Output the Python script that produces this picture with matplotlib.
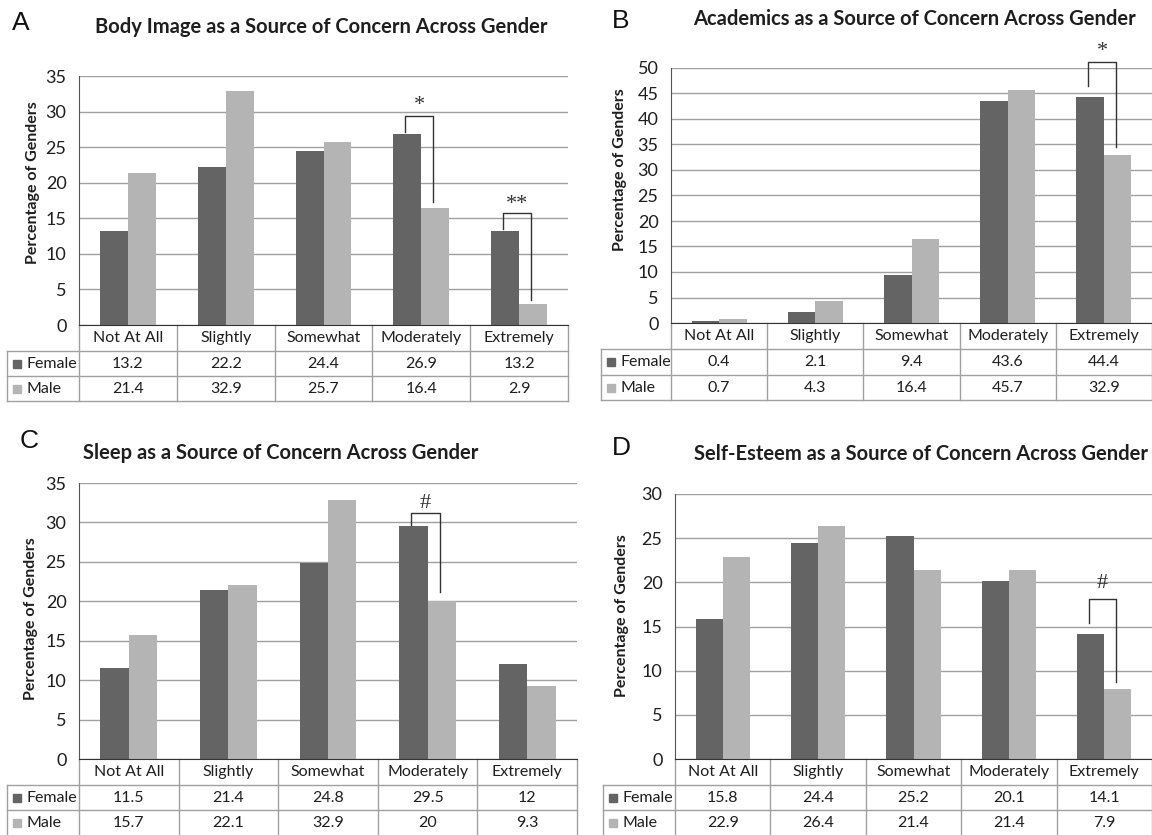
import numpy as np
import matplotlib
matplotlib.use('Agg')
import matplotlib.pyplot as plt
from matplotlib.transforms import blended_transform_factory

plt.rcParams['font.family'] = ['Lato', 'DejaVu Sans']

categories = ['Not At All', 'Slightly', 'Somewhat', 'Moderately', 'Extremely']
series_names = ['Female', 'Male']

body_female = [13.2, 22.2, 24.4, 26.9, 13.2]
body_male = [21.4, 32.9, 25.7, 16.4, 2.9]
acad_female = [0.4, 2.1, 9.4, 43.6, 44.4]
acad_male = [0.7, 4.3, 16.4, 45.7, 32.9]
sleep_female = [11.5, 21.4, 24.8, 29.5, 12]
sleep_male = [15.7, 22.1, 32.9, 20, 9.3]
esteem_female = [15.8, 24.4, 25.2, 20.1, 14.1]
esteem_male = [22.9, 26.4, 21.4, 21.4, 7.9]

# significance brackets: category, female end, top, male end, label y, label
body_sig = [(3, 27.1, 29.4, 17.3, 30.9, '*'), (4, 13.5, 15.7, 3.5, 17.0, '**')]
acad_sig = [(4, 46.5, 51.1, 34.6, 53.3, '*')]
sleep_sig = [(3, 29.7, 31.2, 21.2, 32.4, '#')]
esteem_sig = [(4, 15.45, 18.1, 8.7, 19.9, '#')]

FEMALE_C = '#646464'
MALE_C = '#b4b4b4'
LINE_C = '#a0a0a0'
TEXT_C = '#1e1e1e'

W, H = 1152, 835
fig = plt.figure(figsize=(W / 100, H / 100), dpi=100)
fig.patch.set_facecolor('white')


def draw_panel(box, rows, leg_left, letter, letter_xy, title, title_xy,
               female, male, ymax, sig, ylab_pos):
    l, r, t, b = box
    ax = fig.add_axes([l / W, 1 - b / H, (r - l) / W, (b - t) / H])
    x = np.arange(len(categories))
    w = 0.285
    ax.bar(x - w / 2, female, w, color=FEMALE_C, zorder=3)
    ax.bar(x + w / 2, male, w, color=MALE_C, zorder=3)
    ax.set_xlim(-0.5, len(categories) - 0.5)
    ax.set_ylim(0, ymax)
    ax.set_yticks(np.arange(0, ymax + 1, 5))
    ax.set_xticks([])
    ax.yaxis.grid(True, color=LINE_C, lw=1, zorder=0)
    for s in ['top', 'right']:
        ax.spines[s].set_visible(False)
    ax.spines['left'].set_color('#555555')
    ax.spines['bottom'].set_color('#333333')
    ax.spines['bottom'].set_zorder(4)
    ax.tick_params(axis='y', length=0, pad=9, labelsize=13, labelcolor=TEXT_C)
    ax.set_ylabel('Percentage of Genders', fontsize=11.5, fontweight='bold', color=TEXT_C)
    ax.yaxis.set_label_coords(-ylab_pos[0] / (r - l), ylab_pos[1])

    # data table under the plot
    hgt = b - t

    def fy(p):
        return (b - p) / hgt

    def fx(p):
        return (p - l) / (r - l)

    lk = dict(color=LINE_C, lw=1, transform=ax.transAxes, clip_on=False, zorder=2)
    r0, r1, r2, r3 = rows
    for p in (r1, r2, r3):
        ax.plot([fx(leg_left), 1], [fy(p), fy(p)], **lk)
    for k in range(1, len(categories) + 1):
        ax.plot([k / len(categories)] * 2, [fy(r0), fy(r3)], **lk)
    ax.plot([0, 0], [fy(r0), fy(r3)], **lk)
    ax.plot([fx(leg_left)] * 2, [fy(r1), fy(r3)], **lk)

    tr = blended_transform_factory(ax.transData, ax.transAxes)
    for i, c in enumerate(categories):
        ax.text(i, fy((r0 + r1) / 2), c, transform=tr, ha='center', va='center',
                fontsize=11.5, color=TEXT_C)
        ax.text(i, fy((r1 + r2) / 2), f'{female[i]:g}', transform=tr, ha='center',
                va='center', fontsize=11.5, color=TEXT_C)
        ax.text(i, fy((r2 + r3) / 2), f'{male[i]:g}', transform=tr, ha='center',
                va='center', fontsize=11.5, color=TEXT_C)
    for name, col, (ra, rb) in zip(series_names, [FEMALE_C, MALE_C], [(r1, r2), (r2, r3)]):
        ax.plot([fx(leg_left + 10)], [fy((ra + rb) / 2)], marker='s', ms=5.5, color=col,
                transform=ax.transAxes, clip_on=False, ls='none')
        ax.text(fx(leg_left + 19), fy((ra + rb) / 2), name, transform=ax.transAxes,
                ha='left', va='center', fontsize=11.5, color=TEXT_C)

    # significance brackets
    for (i, fe, top, me, ly, lab) in sig:
        xl = i - w / 2 - 0.02
        xr = i + w / 2 - 0.02
        ax.plot([xl, xl, xr, xr], [fe, top, top, me], color='#333333', lw=1,
                clip_on=False, zorder=5)
        ax.text(i - 0.02, ly, lab, ha='center', va='center', fontsize=16,
                family='Liberation Serif', color='#333333')

    fig.text(letter_xy[0] / W, 1 - letter_xy[1] / H, letter, fontsize=19,
             family='Liberation Sans', ha='center', va='center', color='#111111')
    fig.text(title_xy[0] / W, 1 - title_xy[1] / H, title, fontsize=14.5,
             fontweight='bold', ha='center', va='center', color=TEXT_C)
    return ax


draw_panel((79, 568, 76, 325), (325, 351, 376, 401), 7, 'A', (21, 23),
           'Body Image as a Source of Concern Across Gender', (321, 27),
           body_female, body_male, 35, body_sig, (39, 0.57))
draw_panel((671, 1152, 68, 323), (323, 349, 375, 400), 601, 'B', (621, 21),
           'Academics as a Source of Concern Across Gender', (914, 19),
           acad_female, acad_male, 50, acad_sig, (44, 0.60))
draw_panel((79, 577, 483, 759), (759, 785, 810, 836), 7, 'C', (29, 441),
           'Sleep as a Source of Concern Across Gender', (281, 453),
           sleep_female, sleep_male, 35, sleep_sig, (41, 0.51))
draw_panel((675, 1152, 494, 759), (759, 785, 810, 836), 603, 'D', (621, 448),
           'Self-Esteem as a Source of Concern Across Gender', (921, 454),
           esteem_female, esteem_male, 30, esteem_sig, (46, 0.54))

fig.savefig('out.png', dpi=100)
